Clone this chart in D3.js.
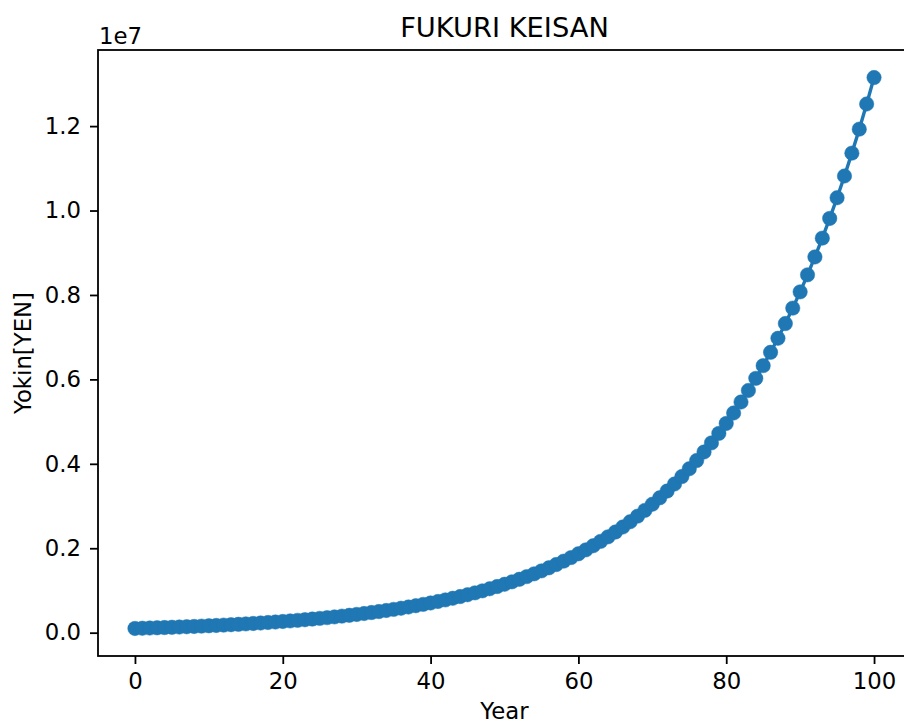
<!DOCTYPE html>
<html>
<head>
<meta charset="utf-8">
<script src="https://cdn.jsdelivr.net/npm/d3@7"></script>
<style>
  html, body { margin: 0; padding: 0; background: #fff; }
  svg { display: block; }
  text { font-family: "DejaVu Sans", sans-serif; fill: #000; }
</style>
</head>
<body>
<svg id="chart" width="904" height="725"></svg>
<script>
// ---- data ----
const years = d3.range(0, 101);
const yokin = [
  100000, 105000, 110250, 115763, 121551, 127628, 134010, 140710, 147746, 155133,
  162889, 171034, 179586, 188565, 197993, 207893, 218287, 229202, 240662, 252695,
  265330, 278596, 292526, 307152, 322510, 338635, 355567, 373346, 392013, 411614,
  432194, 453804, 476494, 500319, 525335, 551602, 579182, 608141, 638548, 670475,
  703999, 739199, 776159, 814967, 855715, 898501, 943426, 990597, 1040127, 1092133,
  1146740, 1204077, 1264281, 1327495, 1393870, 1463563, 1536741, 1613578, 1694257, 1778970,
  1867919, 1961315, 2059380, 2162349, 2270467, 2383990, 2503190, 2628349, 2759766, 2897755,
  3042643, 3194775, 3354513, 3522239, 3698351, 3883269, 4077432, 4281304, 4495369, 4720137,
  4956144, 5203951, 5464149, 5737356, 6024224, 6325435, 6641707, 6973792, 7322482, 7688606,
  8073036, 8476688, 8900523, 9345549, 9812826, 10303468, 10818641, 11359573, 11927552, 12523929,
  13150126
];
const xTicks = [0, 20, 40, 60, 80, 100];
const yTicks = [0, 2e6, 4e6, 6e6, 8e6, 10e6, 12e6];
const yTickLabels = ["0.0", "0.2", "0.4", "0.6", "0.8", "1.0", "1.2"];
const titleText = "FUKURI KEISAN";
const xLabel = "Year";
const yLabel = "Yokin[YEN]";
const offsetText = "1e7";

// ---- layout ----
const plotLeft = 98, plotTop = 50, plotW = 813, plotH = 606;
const color = "#1f77b4";
const fs = 22.8;

const svg = d3.select("#chart");

const x = d3.scaleLinear().domain([-5, 105]).range([plotLeft, plotLeft + plotW]);
const yMin = d3.min(yokin), yMax = d3.max(yokin), m = (yMax - yMin) * 0.05;
const y = d3.scaleLinear().domain([yMin - m, yMax + m]).range([plotTop + plotH, plotTop]);

// clip
svg.append("defs").append("clipPath").attr("id", "clip")
  .append("rect").attr("x", plotLeft).attr("y", plotTop).attr("width", plotW).attr("height", plotH);

const data = years.map((yr, i) => ({ x: yr, y: yokin[i] }));

const g = svg.append("g").attr("clip-path", "url(#clip)");
g.append("path")
  .datum(data)
  .attr("fill", "none")
  .attr("stroke", color)
  .attr("stroke-width", 3.4)
  .attr("stroke-linejoin", "round")
  .attr("d", d3.line().x(d => x(d.x)).y(d => y(d.y)));
g.selectAll("circle")
  .data(data)
  .join("circle")
  .attr("cx", d => x(d.x))
  .attr("cy", d => y(d.y))
  .attr("r", 7.2)
  .attr("fill", color)
  .attr("stroke", color)
  .attr("stroke-width", 0.5);

// axes
const xAxis = d3.axisBottom(x).tickValues(xTicks).tickSize(8).tickPadding(9).tickFormat(d3.format("d"));
const yAxis = d3.axisLeft(y).tickValues(yTicks).tickSize(8).tickPadding(9)
  .tickFormat((d, i) => yTickLabels[i]);

const gx = svg.append("g").attr("transform", `translate(0,${plotTop + plotH})`).call(xAxis);
const gy = svg.append("g").attr("transform", `translate(${plotLeft},0)`).call(yAxis);
[gx, gy].forEach(a => {
  a.select(".domain").remove();
  a.selectAll(".tick line").attr("stroke", "#000").attr("stroke-width", 1.8);
  a.selectAll(".tick text").attr("font-size", fs).attr("font-family", "DejaVu Sans").attr("fill", "#000");
});

// spines (right spine lies beyond the cropped image)
svg.append("rect")
  .attr("x", plotLeft).attr("y", plotTop).attr("width", plotW).attr("height", plotH)
  .attr("fill", "none").attr("stroke", "#000").attr("stroke-width", 1.8);

// title
svg.append("text")
  .attr("x", plotLeft + plotW / 2).attr("y", 37)
  .attr("text-anchor", "middle")
  .attr("font-size", 27.3)
  .text(titleText);

// offset text
svg.append("text")
  .attr("x", 99).attr("y", 44)
  .attr("font-size", fs)
  .text(offsetText);

// x label
svg.append("text")
  .attr("x", plotLeft + plotW / 2).attr("y", 719)
  .attr("text-anchor", "middle")
  .attr("font-size", fs)
  .text(xLabel);

// y label
svg.append("text")
  .attr("transform", `translate(30.5,${plotTop + plotH / 2}) rotate(-90)`)
  .attr("text-anchor", "middle")
  .attr("font-size", fs)
  .text(yLabel);
</script>
</body>
</html>
